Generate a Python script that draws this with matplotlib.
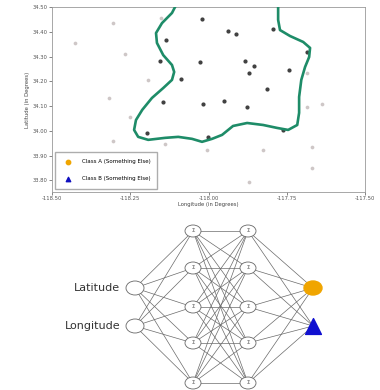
import matplotlib.pyplot as plt
from matplotlib.patches import Ellipse
import numpy as np

# Sample locations (longitude, latitude)
inside_lon = [-118.021, -117.938, -117.912, -118.136, -118.027, -117.883, -117.855,
              -117.871, -117.743, -118.088, -117.813, -118.145, -118.018, -117.950,
              -117.877, -118.196, -118.002, -117.762, -117.685, -117.794, -118.155]
inside_lat = [34.452, 34.403, 34.391, 34.367, 34.278, 34.282, 34.262,
              34.234, 34.246, 34.210, 34.169, 34.117, 34.109, 34.121,
              34.097, 33.992, 33.976, 34.004, 34.319, 34.411, 34.282]

outside_lon = [-118.152, -118.305, -118.427, -118.267, -118.193, -118.318, -118.251,
               -118.305, -118.139, -118.005, -117.826, -117.669, -117.669, -117.871,
               -117.685, -117.637, -117.685]
outside_lat = [34.456, 34.435, 34.355, 34.310, 34.206, 34.133, 34.056,
               33.960, 33.948, 33.923, 33.923, 33.935, 33.851, 33.794,
               34.234, 34.109, 34.097]

# Decision boundary of the trained classifier
boundary_lon = [-118.104, -118.117, -118.149, -118.168, -118.165, -118.145, -118.117,
                -118.110, -118.117, -118.145, -118.181, -118.212, -118.232, -118.238,
                -118.225, -118.193, -118.139, -118.097, -118.053, -118.021, -117.989,
                -117.957, -117.922, -117.877, -117.826, -117.781, -117.746, -117.717,
                -117.711, -117.711, -117.704, -117.692, -117.679, -117.676, -117.698,
                -117.740, -117.772, -117.778, -117.778]
boundary_lat = [34.508, 34.476, 34.435, 34.395, 34.355, 34.306, 34.266,
                34.238, 34.206, 34.173, 34.133, 34.085, 34.044, 34.004,
                33.976, 33.964, 33.972, 33.976, 33.968, 33.956, 33.968,
                33.984, 34.020, 34.032, 34.024, 34.012, 34.004, 34.024,
                34.073, 34.137, 34.206, 34.258, 34.298, 34.335, 34.359,
                34.383, 34.407, 34.448, 34.508]

x_ticks = [-118.50, -118.25, -118.00, -117.75, -117.50]
y_ticks = [33.8, 33.9, 34.0, 34.1, 34.2, 34.3, 34.4, 34.5]
class_labels = ['Class A (Something Else)', 'Class B (Something Else)']
input_labels = ['Latitude', 'Longitude']

fig = plt.figure(figsize=(3.8, 3.9), dpi=100)

# ---- top: map of samples and boundary ----
ax = fig.add_axes([0.137, 0.508, 0.824, 0.474])
ax.scatter(outside_lon, outside_lat, s=3, marker='o', color='#c8c0c0', alpha=0.8, zorder=2)
ax.scatter(inside_lon, inside_lat, s=4, marker='o', color='#404040', zorder=3)
ax.plot(boundary_lon, boundary_lat, color='#1e8c68', linewidth=1.9,
        solid_joinstyle='round', solid_capstyle='round', zorder=4)
ax.scatter([], [], s=10, marker='o', color='#f0a500', label=class_labels[0])
ax.scatter([], [], s=10, marker='^', color='#1010c0', label=class_labels[1])
ax.set_xlim(-118.5, -117.5)
ax.set_ylim(33.754, 34.5)
ax.set_xticks(x_ticks)
ax.set_yticks(y_ticks)
ax.set_xticklabels([f'{v:.2f}' for v in x_ticks])
ax.set_yticklabels([f'{v:.2f}' for v in y_ticks])
ax.tick_params(labelsize=3.8, length=2, width=0.5, colors='#555555', pad=1)
ax.set_xlabel('Longitude (in Degrees)', fontsize=3.8, labelpad=1, color='#444444')
ax.set_ylabel('Latitude (in Degrees)', fontsize=3.8, labelpad=2, color='#444444')
for sp in ax.spines.values():
    sp.set_linewidth(0.6)
    sp.set_color('#999999')
ax.legend(loc='lower left', fontsize=4.0, frameon=True, borderpad=1.3,
          labelspacing=2.2, handletextpad=1.4, edgecolor='#999999', fancybox=False,
          borderaxespad=0.6)

# ---- bottom: network diagram ----
net = fig.add_axes([0, 0, 1, 180 / 390])
net.set_xlim(0, 380)
net.set_ylim(390, 210)
net.axis('off')

inputs = [(135, 288), (135, 326)]
hidden1 = [(193, y) for y in (231, 268, 307, 343, 383)]
hidden2 = [(248, y) for y in (231, 268, 307, 343, 383)]
outputs = [(313, 288), (313, 326)]

edge_kw = dict(color='#6a6a6a', linewidth=0.5, zorder=1)
for a in inputs:
    for b in hidden1:
        net.plot([a[0], b[0]], [a[1], b[1]], **edge_kw)
for a in hidden1:
    for b in hidden2:
        net.plot([a[0], b[0]], [a[1], b[1]], **edge_kw)
for a in hidden2:
    for b in outputs:
        net.plot([a[0], b[0]], [a[1], b[1]], **edge_kw)

for (x, y) in inputs:
    net.add_patch(Ellipse((x, y), 18, 14, facecolor='white', edgecolor='#666666',
                          linewidth=0.6, zorder=3))
for (x, y) in hidden1 + hidden2:
    net.add_patch(Ellipse((x, y), 16, 12, facecolor='white', edgecolor='#666666',
                          linewidth=0.6, zorder=3))
    net.text(x, y, 'Σ', fontsize=4, ha='center', va='center', color='#555555', zorder=4)

for (x, y), lab in zip(inputs, input_labels):
    net.text(x - 15, y, lab, fontsize=8, ha='right', va='center', color='#333333')

net.add_patch(Ellipse(outputs[0], 18, 14, facecolor='#f0a500', edgecolor='#f0a500', zorder=3))
net.scatter([outputs[1][0]], [outputs[1][1]], s=130, marker='^', color='#1010d0', zorder=3)

fig.savefig('out.png', dpi=100)
